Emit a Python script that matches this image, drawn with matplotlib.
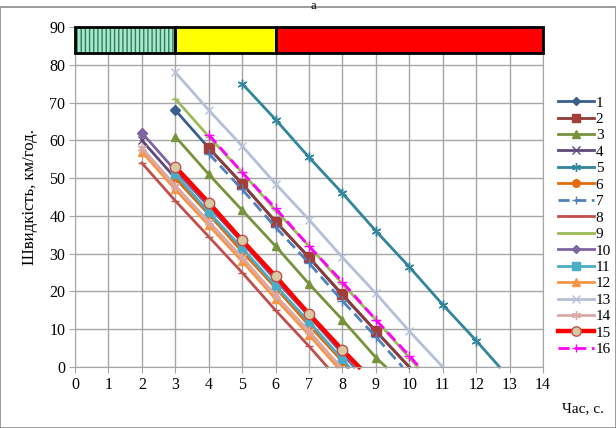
import numpy as np
import matplotlib
matplotlib.use('Agg')
import matplotlib.pyplot as plt
from matplotlib.patches import Rectangle

plt.rcParams['font.family'] = ['Liberation Serif', 'DejaVu Serif']
plt.rcParams['hatch.linewidth'] = 1.0

# ── дані: стартовий час, швидкості в цілі секунди, час зупинки ──
labels = [str(i) for i in range(1, 17)]
start_t = [3, 4, 3, 2, 5, 3, 4, 2, 3, 2, 3, 2, 3, 2, 3, 4]
stop_t = [10.0, 10.0, 9.3, 8.15, 12.7, 8.15, 9.8, 7.55, 10.25, 8.35, 8.2, 7.85, 11.0, 7.95, 8.5, 10.3]
v1 = [68, 58, 48.5, 38.5, 29, 19, 9.5]
v2 = [58, 48.5, 38.5, 29, 19.2, 9.5]
v3 = [61, 51, 41.5, 32, 22, 12.5, 2.5]
v4 = [60, 50, 40.5, 31, 21, 11.5, 1.5]
v5 = [75, 65.5, 55.5, 46, 36, 26.5, 16.5, 7]
v6 = [50, 40.5, 30.5, 21, 11, 1.5]
v7 = [56.5, 47, 37, 27.5, 17.5, 8]
v8 = [54, 44, 34.5, 25, 15, 5.5]
v9 = [71, 61, 51.5, 41.5, 32, 22, 12.5, 2.5]
v10 = [62, 52, 42.5, 33, 23, 13.5, 3.5]
v11 = [51, 41, 31.5, 21.5, 12, 2]
v12 = [57, 47, 37.5, 28, 18, 8.5]
v13 = [78, 68, 58.5, 48.5, 39, 29, 19.5, 9.5]
v14 = [58, 48, 38.5, 29, 19, 9.5]
v15 = [53, 43.5, 33.5, 24, 14, 4.5]
v16 = [61.5, 51.5, 42, 32, 22.5, 12.5, 3]
speeds = [v1, v2, v3, v4, v5, v6, v7, v8, v9, v10, v11, v12, v13, v14, v15, v16]

# верхня смуга: межі зон
zone_x = [0, 3, 6, 14]

# ── стилі ──
STAR = (6, 2, 0)
styles = [
    dict(color='#3A5F8F', marker='D', ms=5),
    dict(color='#8E3B38', marker='s', ms=7, mfc='#A33E3A', mec='#A33E3A'),
    dict(color='#77933C', marker='^', ms=6),
    dict(color='#5F497A', marker='x', ms=6, mew=1),
    dict(color='#31859C', marker=STAR, ms=7, mew=1),
    dict(color='#E46C0A', marker='o', ms=6),
    dict(color='#4F81BD', marker='+', ms=7, mew=1, ls=(0, (4, 2))),
    dict(color='#C0504D', marker='_', ms=6, mew=1),
    dict(color='#9BBB59', marker='_', ms=6, mew=1),
    dict(color='#8064A2', marker='D', ms=5),
    dict(color='#4BACC6', marker='s', ms=6),
    dict(color='#F79646', marker='^', ms=6),
    dict(color='#B4C0DA', marker='x', ms=6, mew=1),
    dict(color='#D9A9A8', marker=STAR, ms=7, mew=1),
    dict(color='#FF0000', marker='o', ms=7.5, mfc='#D8C9A3', mec='#C0504D', lw=3.2),
    dict(color='#FF00FF', marker='+', ms=7, mew=1, ls=(0, (4, 2))),
]

fig = plt.figure(figsize=(6.16, 4.28), dpi=100)
ax = fig.add_axes([75 / 616, 1 - 367 / 428, 468 / 616, 340 / 428])

# рамка діаграми
fig.patches.append(Rectangle((0, 0), 1, 1 - 7 / 428, transform=fig.transFigure,
                             fill=False, ec='#8C8C8C', lw=1.2))

for lab, t0, ts, v, st in zip(labels, start_t, stop_t, speeds, styles):
    xs = list(np.arange(t0, t0 + len(v)))
    ys = list(v)
    if ts > xs[-1]:
        xs.append(ts)
        ys.append(0)
    kw = dict(lw=2.0)
    kw.update(st)
    ax.plot(xs, ys, label=lab, markevery=list(range(len(v))), clip_on=False, **kw)

# смуга режимів зверху
zone_fc = ['#A8E8CC', '#FFFF00', '#FF0000']
for i, fc in enumerate(zone_fc):
    w = zone_x[i + 1] - zone_x[i]
    if i == 0:
        ax.add_patch(Rectangle((zone_x[i], 83), w, 7, fc=fc, ec='#2E7D5B', lw=0,
                               hatch='||||', zorder=5))
    else:
        ax.add_patch(Rectangle((zone_x[i], 83), w, 7, fc=fc, lw=0, zorder=5))
    ax.add_patch(Rectangle((zone_x[i], 83), w, 7, fill=False, ec='black', lw=2,
                           zorder=6, clip_on=False))

ax.set_xlim(0, 14)
ax.set_ylim(0, 90)
ax.set_xticks(range(0, 15))
ax.set_yticks(range(0, 91, 10))
ax.grid(True, color='#A6A6A6', lw=1)
ax.set_axisbelow(True)
for s in ax.spines.values():
    s.set_color('#A6A6A6')
ax.tick_params(direction='out', length=4, color='#A6A6A6', labelsize=11.5, pad=3)

ax.set_ylabel('Швидкість, км/год.', fontsize=12, labelpad=8)
fig.text(583 / 616, 1 - 409 / 428, 'Час, с.', fontsize=11, ha='center', va='center')
fig.text(313 / 616, 1.0, 'a', fontsize=9, ha='center', va='top')

ax.legend(loc='center left', bbox_to_anchor=(550 / 616, 1 - 226 / 428),
          bbox_transform=fig.transFigure, frameon=False, fontsize=11,
          labelspacing=0.18, handlelength=2.4, handletextpad=0.1,
          borderpad=0, markerscale=0.9)

fig.savefig('out.png', dpi=100)
